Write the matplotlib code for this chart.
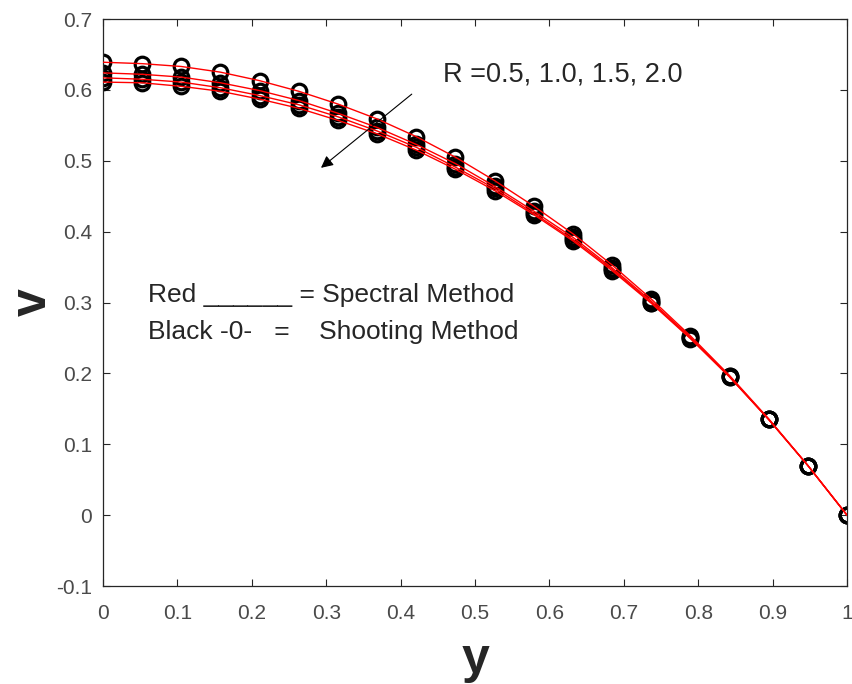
import numpy as np
import matplotlib
matplotlib.use("Agg")
import matplotlib.pyplot as plt

# ---- data ----
x_pts = [0.0, 0.0526, 0.1053, 0.1579, 0.2105, 0.2632, 0.3158, 0.3684, 0.4211, 0.4737,
         0.5263, 0.5789, 0.6316, 0.6842, 0.7368, 0.7895, 0.8421, 0.8947, 0.9474, 1.0]

v_R05 = [0.639, 0.637, 0.633, 0.625, 0.613, 0.598, 0.580, 0.559, 0.534, 0.505,
         0.472, 0.436, 0.397, 0.353, 0.305, 0.253, 0.197, 0.136, 0.070, 0.0]
v_R10 = [0.624, 0.622, 0.618, 0.610, 0.599, 0.585, 0.567, 0.547, 0.523, 0.496,
         0.464, 0.429, 0.392, 0.349, 0.302, 0.251, 0.196, 0.135, 0.070, 0.0]
v_R15 = [0.617, 0.615, 0.611, 0.603, 0.592, 0.579, 0.562, 0.542, 0.519, 0.491,
         0.461, 0.426, 0.389, 0.347, 0.300, 0.250, 0.195, 0.135, 0.070, 0.0]
v_R20 = [0.611, 0.610, 0.605, 0.598, 0.587, 0.574, 0.557, 0.538, 0.515, 0.488,
         0.458, 0.424, 0.387, 0.345, 0.299, 0.249, 0.195, 0.135, 0.070, 0.0]
series = [v_R05, v_R10, v_R15, v_R20]

x_ticks = [0, 0.1, 0.2, 0.3, 0.4, 0.5, 0.6, 0.7, 0.8, 0.9, 1.0]
x_tick_labels = ["0", "0.1", "0.2", "0.3", "0.4", "0.5", "0.6", "0.7", "0.8", "0.9", "1"]
y_ticks = [-0.1, 0, 0.1, 0.2, 0.3, 0.4, 0.5, 0.6, 0.7]
y_tick_labels = ["-0.1", "0", "0.1", "0.2", "0.3", "0.4", "0.5", "0.6", "0.7"]

plt.rcParams['font.family'] = ['Liberation Sans', 'DejaVu Sans']

fig = plt.figure(figsize=(8.52, 6.84), dpi=100)
L, R, T, B = 103, 847, 19, 586
ax = fig.add_axes([L/852, 1-B/684, (R-L)/852, (B-T)/684])

for v in series:
    ax.plot(x_pts, v, color='#ff0000', linewidth=1.0, zorder=3)
for v in series:
    ax.plot(x_pts, v, linestyle='none', marker='o', markersize=10.5,
            markerfacecolor='none', markeredgecolor='black', markeredgewidth=2.3, zorder=2)

ax.set_xlim(0, 1)
ax.set_ylim(-0.1, 0.7)
ax.set_xticks(x_ticks)
ax.set_xticklabels(x_tick_labels)
ax.set_yticks(y_ticks)
ax.set_yticklabels(y_tick_labels)
ax.tick_params(direction='in', length=5, width=0.8, top=True, right=True,
               labelsize=15, labelcolor='#4a4a4a', color='#262626')
ax.tick_params(axis='x', pad=13)
ax.tick_params(axis='y', pad=8)
for s in ax.spines.values():
    s.set_color('#262626')
    s.set_linewidth(0.9)

ax.set_xlabel('y', fontsize=36, fontweight='bold', color='#262626', labelpad=10)
ax.set_ylabel('v', fontsize=36, fontweight='bold', color='#262626', labelpad=0)

ax.text(0.457, 0.621, "R =0.5, 1.0, 1.5, 2.0", fontsize=19.5, color='#262626',
        ha='left', va='center')
ax.text(0.061, 0.310, "Red ______ = Spectral Method", fontsize=19, color='#262626',
        ha='left', va='center')
ax.text(0.061, 0.258, "Black -0-   =    Shooting Method", fontsize=19, color='#262626',
        ha='left', va='center')

ax.annotate("", xy=(0.293, 0.490), xytext=(0.415, 0.594),
            arrowprops=dict(arrowstyle='-|>', color='black', lw=0.8,
                            mutation_scale=18, shrinkA=0, shrinkB=0))

fig.savefig("out.png", dpi=100)
